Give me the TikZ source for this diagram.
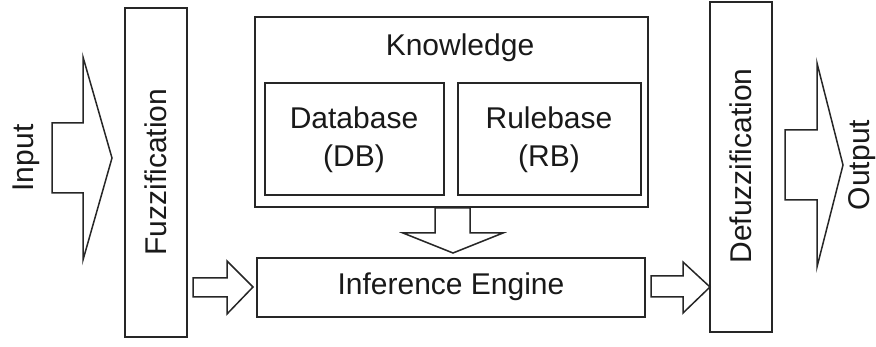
\documentclass[tikz,border=0pt]{standalone}
\usepackage{fontspec}
\setmainfont{Liberation Sans}
\begin{document}
\begin{tikzpicture}[x=1pt,y=-1pt,
  box/.style={draw=black!85,line width=1.8pt},
  blk/.style={draw=black!85,line width=1.5pt,line join=miter,fill=white},
  lbl/.style={font=\fontsize{30}{36}\selectfont,text=black!90,inner sep=0pt}]
\useasboundingbox (0,0) rectangle (876,347);
% boxes
\draw[box] (125,8) rectangle (187,337);
\draw[box] (710,2) rectangle (772,332);
\draw[box] (255,17) rectangle (648,207);
\draw[box] (265,83) rectangle (444,195);
\draw[box] (458,83) rectangle (641,195);
\draw[box] (257,258) rectangle (645,317);
% labels
\node[lbl,rotate=90] (fuz) at (156,172) {Fuzzification};
\node[lbl,rotate=90] (defuz) at (741,166) {Defuzzification};
\node[lbl] (know) at (460,48) {Knowledge};
\node[lbl,align=center] (db) at (354,140) {Database\\[2pt](DB)};
\node[lbl,align=center] (rb) at (549,140) {Rulebase\\[2pt](RB)};
\node[lbl] (inf) at (451,287) {Inference Engine};
\node[lbl,rotate=90] (in) at (26,158) {Input};
\node[lbl,rotate=90] (out) at (862,165) {Output};
% block arrows
\draw[blk] (52,123) -- (83,123) -- (83,57) -- (112,158) -- (83,260) -- (83,193) -- (52,193) -- cycle;
\draw[blk] (785,130) -- (817,130) -- (817,63) -- (843,165) -- (817,267) -- (817,200) -- (785,200) -- cycle;
\draw[blk] (193,278) -- (227,278) -- (227,261) -- (253,287) -- (227,314) -- (227,297) -- (193,297) -- cycle;
\draw[blk] (651,276) -- (683,276) -- (683,262) -- (710,287) -- (683,313) -- (683,297) -- (651,297) -- cycle;
\draw[blk] (435,208) -- (470,208) -- (470,233) -- (503,233) -- (453,253) -- (403,233) -- (435,233) -- cycle;
\end{tikzpicture}
\end{document}
